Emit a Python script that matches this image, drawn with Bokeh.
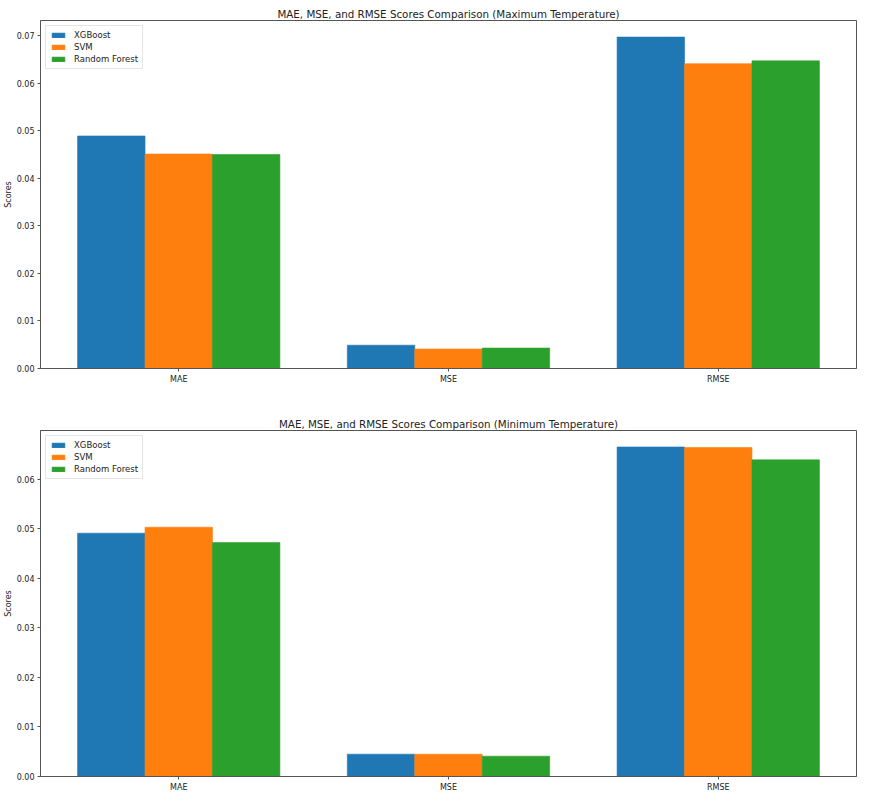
from bokeh.plotting import figure
from bokeh.layouts import column
from bokeh.models import ColumnDataSource, FactorRange, Range1d, FixedTicker, PrintfTickFormatter
from bokeh.transform import dodge
from bokeh.embed import file_html
from bokeh.resources import INLINE

metrics = ["MAE", "MSE", "RMSE"]
models = ["XGBoost", "SVM", "Random Forest"]
colors = ["#1f77b4", "#ff7f0e", "#2ca02c"]

# Maximum temperature
max_xgb = [0.0489, 0.0049, 0.0697]
max_svm = [0.0451, 0.0041, 0.0641]
max_rf = [0.0450, 0.0043, 0.0647]
max_ticks = [0.00, 0.01, 0.02, 0.03, 0.04, 0.05, 0.06, 0.07]

# Minimum temperature
min_xgb = [0.0491, 0.0045, 0.0665]
min_svm = [0.0503, 0.0045, 0.0664]
min_rf = [0.0472, 0.0041, 0.0639]
min_ticks = [0.00, 0.01, 0.02, 0.03, 0.04, 0.05, 0.06]

FONT = "DejaVu Sans"
AX = "#555555"
TXT = "#222222"


def make_fig(title, xgb, svm, rf, ticks, height, top_border, bottom_border):
    src = ColumnDataSource(dict(metric=metrics, xgb=xgb, svm=svm, rf=rf))
    ymax = max(xgb + svm + rf) * 1.05
    p = figure(x_range=FactorRange(*metrics, range_padding=0.0083),
               y_range=Range1d(0, ymax), width=857, height=height,
               output_backend="svg", toolbar_location=None, title=title,
               min_border_left=36, min_border_right=1,
               min_border_top=top_border, min_border_bottom=bottom_border)
    for col, off, name, c in zip(["xgb", "svm", "rf"], [-0.25, 0.0, 0.25], models, colors):
        p.vbar(x=dodge("metric", off, range=p.x_range), top=col, width=0.25,
               source=src, fill_color=c, line_color=c, line_width=0.6,
               legend_label=name)
    p.title.align = "center"
    p.title.text_font = FONT
    p.title.text_font_size = "10.3px"
    p.title.text_font_style = "normal"
    p.title.text_color = TXT
    p.title.standoff = 2
    p.xgrid.visible = False
    p.ygrid.visible = False
    p.outline_line_color = AX
    p.outline_line_width = 1
    p.outline_line_alpha = 1
    for ax in (p.xaxis, p.yaxis):
        ax.major_tick_in = 0
        ax.major_tick_out = 3
        ax.minor_tick_out = 0
        ax.minor_tick_in = 0
        ax.axis_line_color = AX
        ax.major_tick_line_color = AX
        ax.major_label_text_font = FONT
        ax.major_label_text_font_size = "8px"
        ax.major_label_text_color = TXT
    p.xaxis.major_label_standoff = 3
    p.yaxis.major_label_standoff = 3
    p.yaxis.ticker = FixedTicker(ticks=ticks)
    p.yaxis.formatter = PrintfTickFormatter(format="%.2f")
    p.yaxis.axis_label = "Scores"
    p.yaxis.axis_label_text_font = FONT
    p.yaxis.axis_label_text_font_size = "8px"
    p.yaxis.axis_label_text_font_style = "normal"
    p.yaxis.axis_label_text_color = TXT
    p.yaxis.axis_label_standoff = 1
    lg = p.legend[0]
    lg.location = "top_left"
    lg.margin = 5
    lg.padding = 4
    lg.spacing = 2
    lg.label_text_font = FONT
    lg.label_text_font_size = "8.5px"
    lg.label_text_color = TXT
    lg.label_height = 9
    lg.label_standoff = 8
    lg.glyph_width = 16
    lg.glyph_height = 6
    lg.border_line_color = "#cccccc"
    lg.border_line_width = 1
    lg.background_fill_alpha = 0.8
    return p


p1 = make_fig("MAE, MSE, and RMSE Scores Comparison (Maximum Temperature)",
              max_xgb, max_svm, max_rf, max_ticks, 394, 20, 26)
p2 = make_fig("MAE, MSE, and RMSE Scores Comparison (Minimum Temperature)",
              min_xgb, min_svm, min_rf, min_ticks, 400, 36, 18)

layout = column(p1, p2, spacing=0)
open("out.html", "w").write(file_html(layout, INLINE))
